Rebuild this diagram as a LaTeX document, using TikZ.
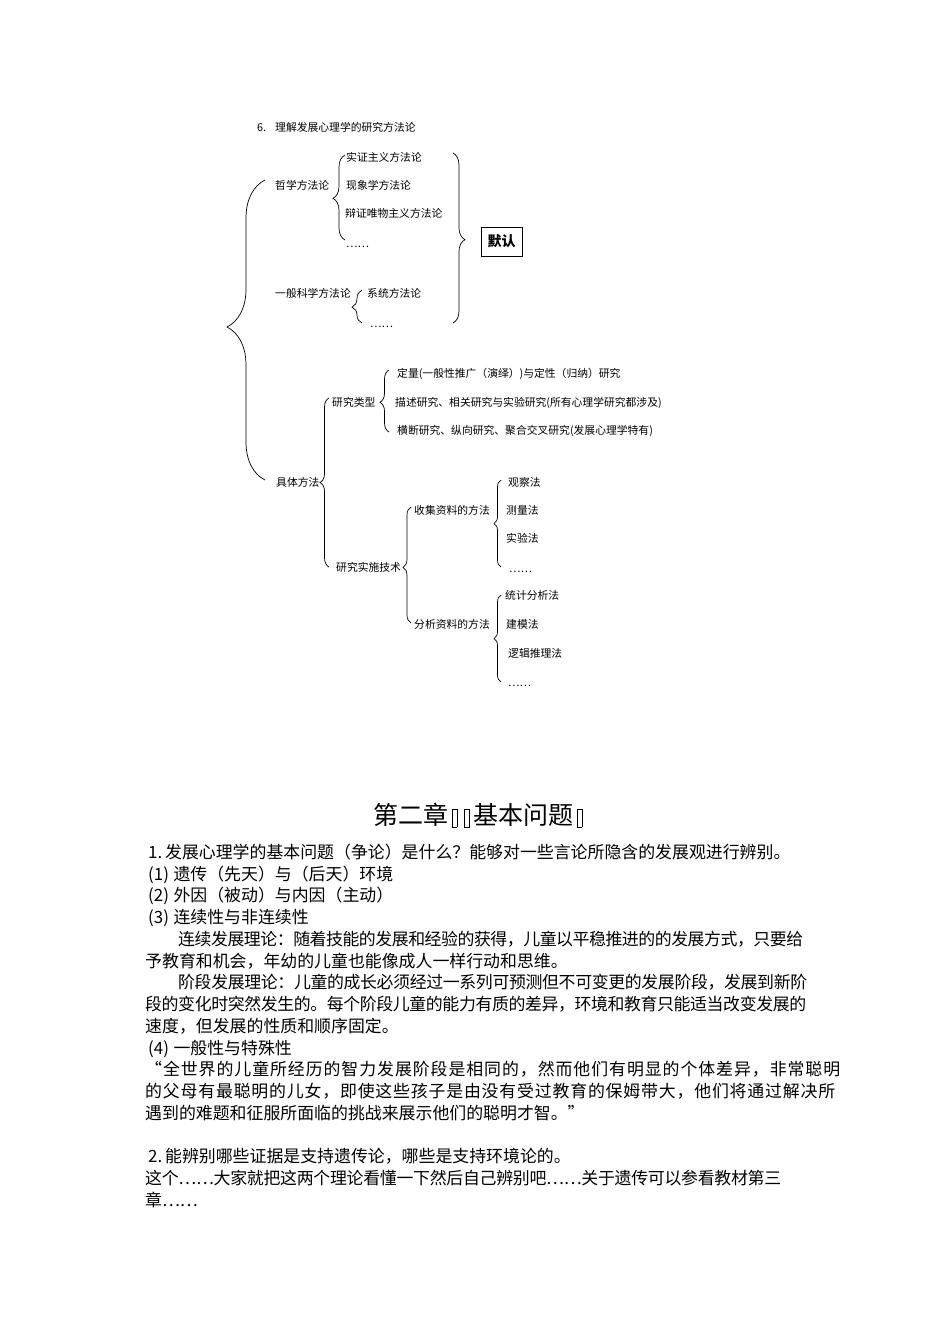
\documentclass[tikz,border=0pt]{standalone}
\usepackage{fontspec}
\setmainfont{Noto Sans CJK SC}
\usetikzlibrary{decorations.pathreplacing}
\ExplSyntaxOn
\NewDocumentCommand \jline { m m }
  { \hbox_to_wd:nn {#1} { \tl_map_inline:nn {#2} { ##1 \skip_horizontal:n { 0pt~plus~1fil~minus~2pt } } \unskip } }
\ExplSyntaxOff
\newcommand\tofu{\makebox[12.5pt]{\raisebox{-2pt}{\fboxsep=0pt\fboxrule=0.6pt\fbox{\rule{0pt}{17pt}\hspace{4.5pt}}}}}
\begin{document}
\begin{tikzpicture}[x=1pt,y=-1pt,
  lbl/.style={anchor=base west, inner sep=0pt, font=\fontsize{10.8}{13}\selectfont},
  body/.style={anchor=base west, inner sep=0pt, font=\fontsize{16.9}{20}\selectfont},
  brc/.style n args={2}{draw, line width=0.7pt, decorate, decoration={brace, amplitude=#1, aspect=#2}},
  tagbox/.style={draw, line width=0.9pt, inner sep=0pt, minimum width=41pt, minimum height=29pt, font=\fontsize{14}{16}\bfseries\selectfont}]
\fill[white] (0,0) rectangle (950,1344);
\useasboundingbox (0,0) rectangle (950,1344);

% ---- diagram ----
\node[lbl] (num) at (257,131.1) {6.};
\node[lbl] (ttl) at (275,131.1) {理解发展心理学的研究方法论};

\node[lbl] (zx) at (275,189.1) {哲学方法论};
\node[lbl] (sz) at (346,161.1) {实证主义方法论};
\node[lbl] (xx) at (346,189.1) {现象学方法论};
\node[lbl] (bz) at (345,217.1) {辩证唯物主义方法论};
\node[lbl] (d1) at (346,247.1) {……};

\node[lbl] (yb) at (275,297.1) {一般科学方法论};
\node[lbl] (xt) at (367,297.1) {系统方法论};
\node[lbl] (d2) at (370,327.1) {……};

\node[tagbox] (mr) at (501.5,241.5) {默认};

\node[lbl] (jt) at (276,486.1) {具体方法};
\node[lbl] (lx) at (332,406.1) {研究类型};
\node[lbl] (dl) at (397,377.1) {定量(一般性推广（演绎）)与定性（归纳）研究};
\node[lbl] (ms) at (395,406.1) {描述研究、相关研究与实验研究(所有心理学研究都涉及)};
\node[lbl] (hd) at (397,434.1) {横断研究、纵向研究、聚合交叉研究(发展心理学特有)};

\node[lbl] (ss) at (336,571.1) {研究实施技术};
\node[lbl] (sj) at (414,514.1) {收集资料的方法};
\node[lbl] (gc) at (508,486.1) {观察法};
\node[lbl] (cl) at (506,514.1) {测量法};
\node[lbl] (sy) at (506,542.1) {实验法};
\node[lbl] (d3) at (509,572.1) {……};
\node[lbl] (fx) at (414,628.1) {分析资料的方法};
\node[lbl] (tj) at (505,599.1) {统计分析法};
\node[lbl] (jm) at (506,628.1) {建模法};
\node[lbl] (lj) at (508,657.1) {逻辑推理法};
\node[lbl] (d4) at (508,686.1) {……};

% brace end points
\coordinate (b1s) at (265,480); \coordinate (b1e) at (265,180);
\coordinate (b2s) at (345,240); \coordinate (b2e) at (345,155);
\coordinate (b3s) at (453,153); \coordinate (b3e) at (453,323);
\coordinate (b4s) at (362,323); \coordinate (b4e) at (362,290);
\coordinate (b5s) at (329,567); \coordinate (b5e) at (329,398);
\coordinate (b6s) at (389,432); \coordinate (b6e) at (389,370);
\coordinate (b7s) at (411,623); \coordinate (b7e) at (411,507);
\coordinate (b8s) at (501,567); \coordinate (b8e) at (501,480);
\coordinate (b9s) at (501,682); \coordinate (b9e) at (501,595);

\draw[brc={38pt}{0.51}] (b1s) -- (b1e);
\draw[brc={12pt}{0.49}] (b2s) -- (b2e);
\draw[brc={12pt}{0.51}] (b3s) -- (b3e);
\draw[brc={10pt}{0.48}] (b4s) -- (b4e);
\draw[brc={9pt}{0.5}] (b5s) -- (b5e);
\draw[brc={9pt}{0.48}] (b6s) -- (b6e);
\draw[brc={8pt}{0.48}] (b7s) -- (b7e);
\draw[brc={7pt}{0.5}] (b8s) -- (b8e);
\draw[brc={7pt}{0.5}] (b9s) -- (b9e);

% ---- text section ----
\node[anchor=base west, inner sep=0pt, font=\fontsize{25}{28}\selectfont] (ch) at (373,824.5) {第二章\tofu\tofu 基本问题\tofu};

\node[body] (k0) at (148,858.4) {\makebox[16.9pt][l]{1.}发展心理学的基本问题（争论）是什么？能够对一些言论所隐含的发展观进行辨别。};
\node[body] (k1) at (148,880.15) {\makebox[25.3pt][l]{(1)}遗传（先天）与（后天）环境};
\node[body] (k2) at (148,901.9) {\makebox[25.3pt][l]{(2)}外因（被动）与内因（主动）};
\node[body] (k3) at (148,923.65) {\makebox[25.3pt][l]{(3)}连续性与非连续性};
\node[body] (k4) at (178,945.4) {\jline{625pt}{连续发展理论：随着技能的发展和经验的获得，儿童以平稳推进的的发展方式，只要给}};
\node[body] (k5) at (145,967.15) {予教育和机会，年幼的儿童也能像成人一样行动和思维。};
\node[body] (k6) at (178,988.9) {\jline{629pt}{阶段发展理论：儿童的成长必须经过一系列可预测但不可变更的发展阶段，发展到新阶}};
\node[body] (k7) at (145,1010.65) {\jline{661pt}{段的变化时突然发生的。每个阶段儿童的能力有质的差异，环境和教育只能适当改变发展的}};
\node[body] (k8) at (145,1032.4) {速度，但发展的性质和顺序固定。};
\node[body] (k9) at (148,1054.15) {\makebox[25.3pt][l]{(4)}一般性与特殊性};
\node[body] (k10) at (145,1075.9) {\jline{695pt}{{\makebox[16.9pt][r]{“}}全世界的儿童所经历的智力发展阶段是相同的，然而他们有明显的个体差异，非常聪明}};
\node[body] (k11) at (145,1097.65) {\jline{690pt}{的父母有最聪明的儿女，即使这些孩子是由没有受过教育的保姆带大，他们将通过解决所}};
\node[body] (k12) at (145,1119.4) {遇到的难题和征服所面临的挑战来展示他们的聪明才智。\makebox[16.9pt][l]{”}};
\node[body] (k14) at (148,1162.9) {\makebox[16.9pt][l]{2.}能辨别哪些证据是支持遗传论，哪些是支持环境论的。};
\node[body] (k15) at (145,1184.65) {\jline{636pt}{这个……大家就把这两个理论看懂一下然后自己辨别吧……关于遗传可以参看教材第三}};
\node[body] (k16) at (145,1206.4) {章……};
\end{tikzpicture}
\end{document}
